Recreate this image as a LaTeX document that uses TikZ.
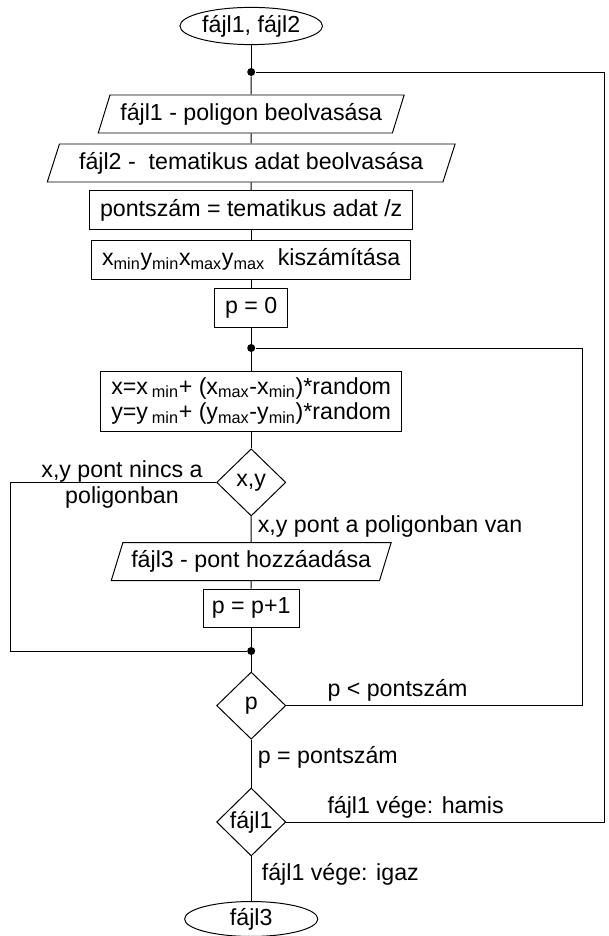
\documentclass[tikz,border=0pt]{standalone}
\usepackage{fontspec}
\setmainfont{Liberation Sans}
\usetikzlibrary{shapes.geometric}
\tikzset{
  box/.style={draw, rectangle, minimum height=0.975cm, inner sep=2pt},
  iobox/.style={draw, trapezium, trapezium left angle=68, trapezium right angle=112,
    trapezium stretches=true, minimum height=0.95cm, inner sep=2pt},
  decide/.style={draw, diamond, inner sep=0pt, minimum width=1.73cm, minimum height=1.68cm},
  term/.style={draw, ellipse, inner sep=1pt},
  junct/.style={circle, fill, inner sep=0pt, minimum size=0.2cm},
  lbl/.style={inner sep=1pt}
}

\begin{document}
\begin{tikzpicture}[line width=.7pt, font=\fontsize{16.5}{18}\selectfont]
\useasboundingbox (0,0) rectangle (15.2,23.4);

\node[term, minimum width=3.35cm, minimum height=0.93cm] (start) at (6.28,22.75) {fájl1, fájl2};
\node[junct] (dot1) at (6.28,21.6) {};
\node[iobox, minimum width=7.65cm] (read1) at (6.28,20.55) {fájl1 - poligon beolvasása};
\node[iobox, minimum width=10.22cm] (read2) at (6.28,19.325) {fájl2 -\ \ tematikus adat beolvasása};
\node[box, minimum width=8.07cm] (count) at (6.28,18.14) {pontszám = tematikus adat /z};
\node[box, minimum width=7.98cm] (bounds) at (6.28,16.91) {x\textsubscript{min}y\textsubscript{min}x\textsubscript{max}y\textsubscript{max}\ \ kiszámítása};
\node[box, minimum width=1.83cm] (pzero) at (6.28,15.71) {p = 0};
\node[junct] (dot2) at (6.28,14.7) {};
\node[box, minimum width=7.53cm, minimum height=1.5cm, align=left] (rnd) at (6.28,13.375)
  {x=x\,\textsubscript{min}+ (x\textsubscript{max}-x\textsubscript{min})*random\\
   y=y\,\textsubscript{min}+ (y\textsubscript{max}-y\textsubscript{min})*random};
\node[decide] (chkxy) at (6.28,11.34) {x,y};
\node[iobox, minimum width=7cm] (write) at (6.28,9.36) {fájl3 - pont hozzáadása};
\node[box, minimum width=2.4cm, minimum height=0.95cm] (pinc) at (6.28,8.2) {p = p+1};
\node[junct] (dot3) at (6.28,7.125) {};
\node[decide] (chkp) at (6.28,5.76) {p};
\node[decide, minimum height=1.7cm] (chkfile) at (6.28,2.85) {fájl1};
\node[term, minimum width=3.33cm, minimum height=0.8cm] (stop) at (6.28,0.425) {fájl3};

% loop corners
\coordinate (outer) at (15.1,21.6);
\coordinate (inner) at (14.55,14.7);
\coordinate (left) at (0.25,7.125);

% branch labels
\node[lbl, align=center] (nopoly) at (3.05,11.29) {x,y pont nincs a\\poligonban};
\node[lbl, anchor=west] (inpoly) at (6.4,10.225) {x,y pont a poligonban van};
\node[lbl, anchor=west] (less) at (8.14,6.15) {p < pontszám};
\node[lbl, anchor=west] (equal) at (6.4,4.475) {p = pontszám};
\node[lbl, anchor=west] (notend) at (8.14,3.225) {fájl1 vége: hamis};
\node[lbl, anchor=west] (isend) at (6.5,1.55) {fájl1 vége: igaz};

\foreach \a/\b in {start/dot1,dot1/read1,read1/read2,read2/count,count/bounds,bounds/pzero,
  pzero/dot2,dot2/rnd,rnd/chkxy,chkxy/write,write/pinc,pinc/dot3,dot3/chkp,chkp/chkfile,chkfile/stop}
  \draw (\a) -- (\b);

\draw (chkxy.west) -| (left) -- (dot3);
\draw (chkp.east) -| (inner) -- (dot2);
\draw (chkfile.east) -| (outer) -- (dot1);
%\draw[dashed] (stop.south) -- ++(0,-.3);
\end{tikzpicture}
\end{document}
